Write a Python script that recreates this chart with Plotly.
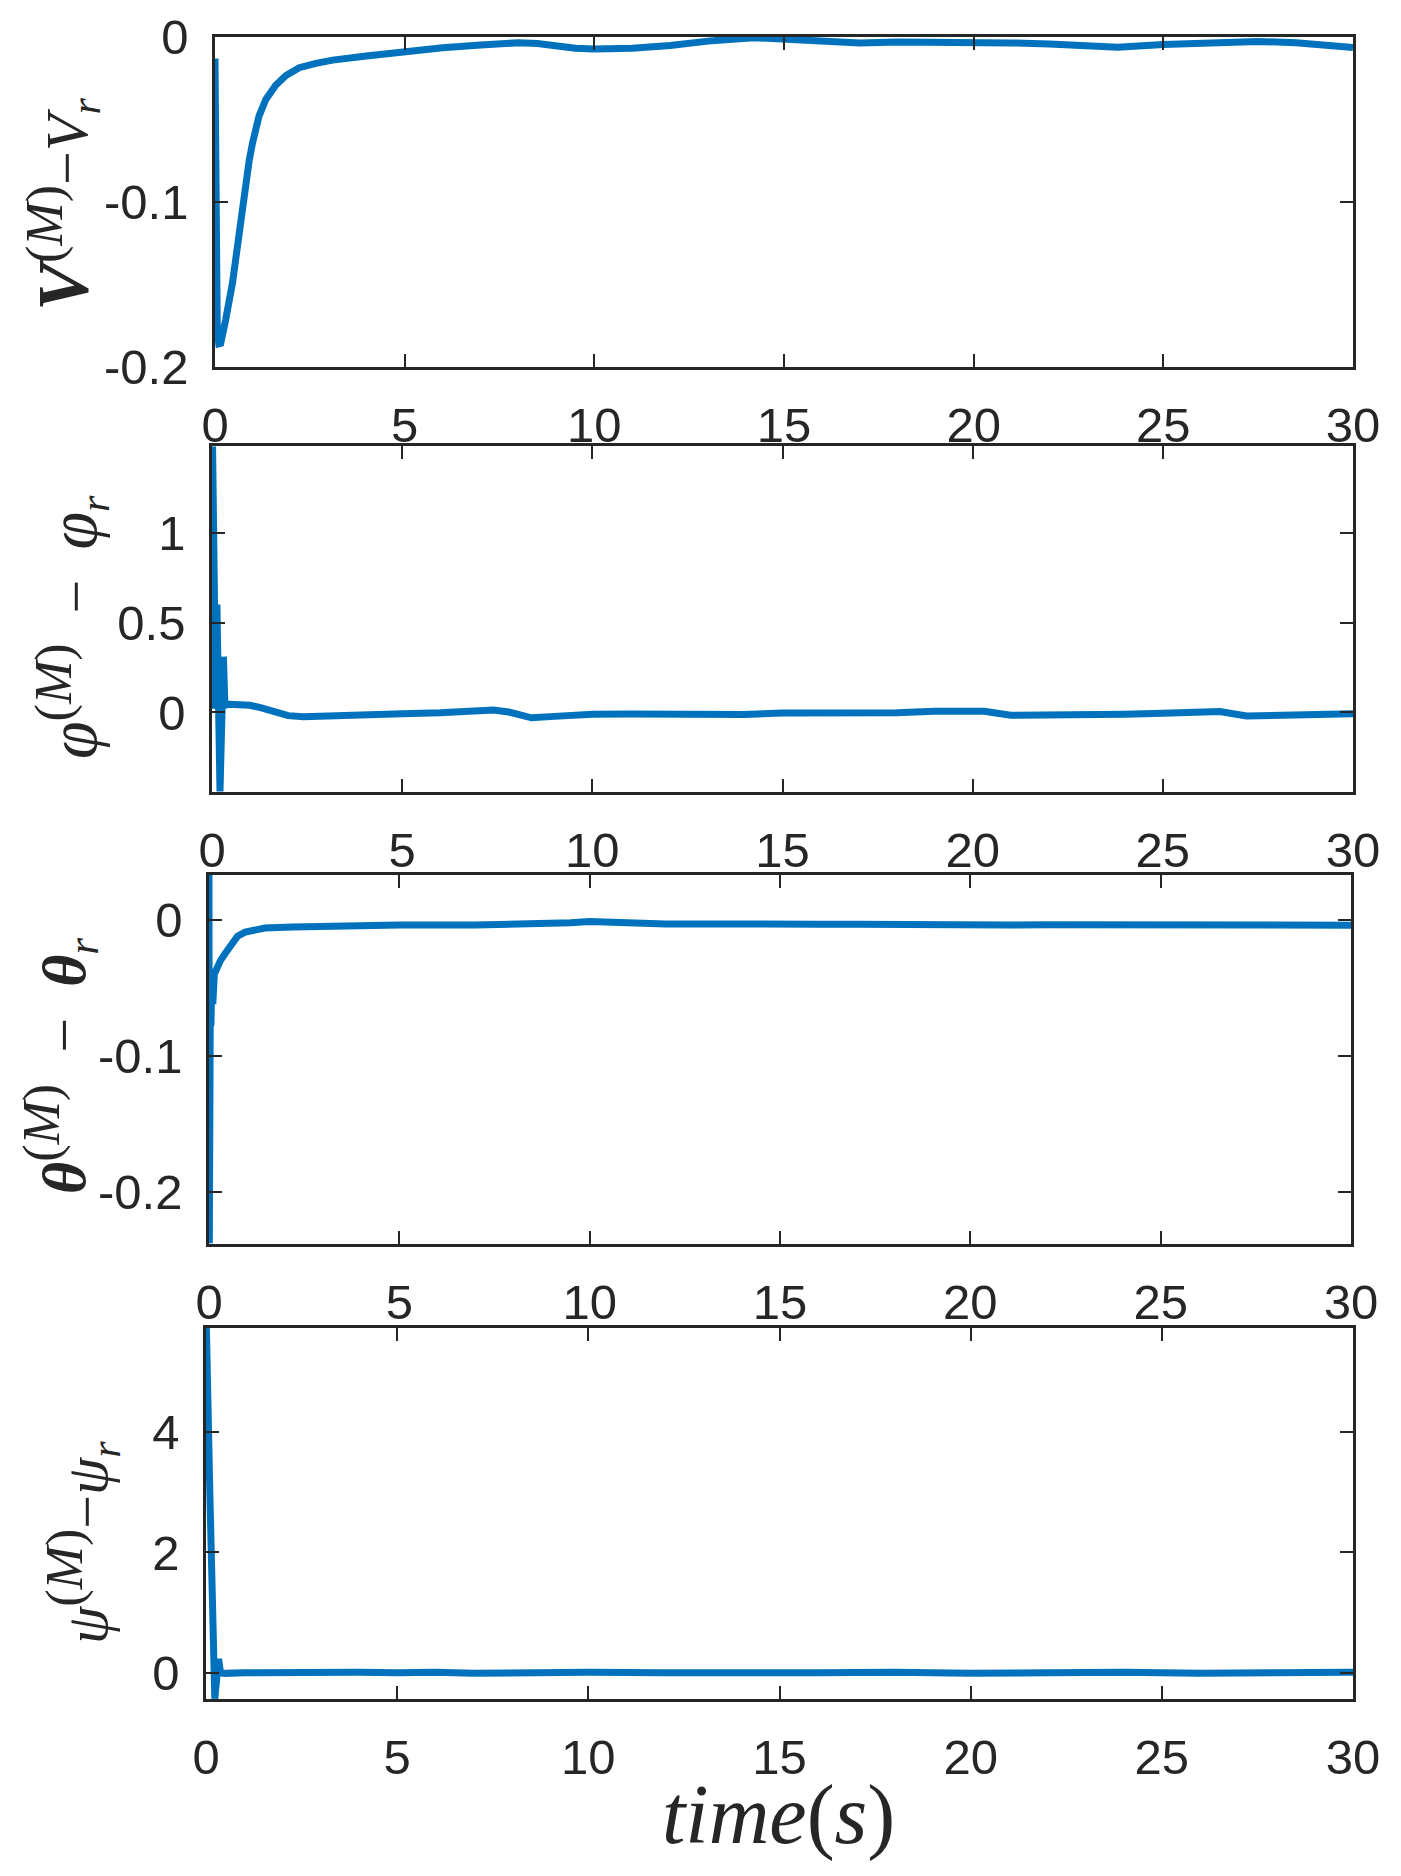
import plotly.graph_objects as go

# page body has an 8px default margin, so the figure is drawn 8px in from the corner
OFF = 8
W, H = 1401 - 2 * OFF, 1876 - OFF

# ---------------- data ----------------
t_v = [0, 0.02, 0.06, 0.1, 0.15, 0.28, 0.37, 0.46, 0.55, 0.63, 0.72, 0.81, 0.9, 0.99,
       1.16, 1.34, 1.6, 1.87, 2.22, 2.66, 3.1, 3.99, 5.0, 6.0, 7.0, 8.0, 8.5, 9.0, 9.5,
       10.0, 11.0, 12.0, 13.0, 14.2, 15.0, 16.0, 17.0, 18.0, 19.0, 20.0, 21.0, 22.0,
       23.0, 23.8, 25.0, 26.0, 27.5, 28.5, 30.0]
v_err = [-0.013, -0.15, -0.178, -0.186, -0.1857, -0.1715, -0.161, -0.1492, -0.134, -0.1188,
         -0.102, -0.0865, -0.075, -0.0642, -0.048, -0.0379, -0.0293, -0.0233, -0.0186,
         -0.016, -0.014, -0.0115, -0.0085, -0.0065, -0.0048, -0.0035, -0.004, -0.0055,
         -0.0068, -0.0073, -0.0068, -0.0052, -0.0025, -0.0004, -0.0012, -0.0028, -0.0036,
         -0.003, -0.0029, -0.0037, -0.0036, -0.0042, -0.0056, -0.0062, -0.0045, -0.0038,
         -0.0027, -0.0035, -0.0063]

t_phi = [0, 0.015, 0.07, 0.1, 0.13, 0.21, 0.3, 0.34, 0.45, 0.7, 1.0, 1.3, 1.6, 2.0, 2.4,
         3.0, 4.0, 5.0, 6.0, 7.0, 7.4, 7.8, 8.1, 8.4, 9.0, 10.0, 11.0, 12.0, 13.5, 14.0,
         15.0, 16.0, 17.0, 18.0, 19.0, 19.8, 20.3, 21.0, 22.0, 23.0, 24.0, 25.0, 26.0,
         26.5, 27.2, 28.0, 29.0, 30.0]
phi_err = [0.02, 1.48, 0.55, 0.15, 0.6, -0.44, 0.31, 0.04, 0.045, 0.045, 0.04, 0.025,
           0.005, -0.018, -0.024, -0.018, -0.01, -0.007, -0.002, 0.012, 0.013, 0.002,
           -0.018, -0.03, -0.022, -0.01, -0.009, -0.01, -0.018, -0.012, -0.003, -0.004,
           -0.006, -0.002, 0.006, 0.01, 0.006, -0.016, -0.016, -0.012, -0.01, -0.005,
           0.008, 0.005, -0.02, -0.017, -0.01, -0.007]

t_theta = [0, 0.008, 0.02, 0.035, 0.05, 0.07, 0.1, 0.14, 0.2, 0.3, 0.42, 0.6, 0.75, 0.95,
           1.2, 1.47, 2.2, 3.0, 4.0, 5.0, 7.0, 8.0, 9.0, 9.5, 10.0, 10.5, 11.0, 12.0,
           13.0, 14.0, 15.0, 16.0, 17.0, 18.0, 19.5, 20.0, 21.0, 22.0, 23.0, 24.0, 25.0,
           26.0, 27.0, 28.0, 29.0, 30.0]
theta_err = [0.033, -0.238, -0.1, -0.06, -0.078, -0.05, -0.062, -0.04, -0.036, -0.03,
             -0.025, -0.017, -0.012, -0.009, -0.0072, -0.006, -0.0052, -0.0046, -0.0042,
             -0.0038, -0.0038, -0.0036, -0.0032, -0.0022, -0.0012, -0.0013, -0.0022,
             -0.003, -0.0028, -0.0024, -0.0028, -0.0032, -0.0033, -0.0036, -0.0046,
             -0.0042, -0.0038, -0.0037, -0.0038, -0.004, -0.0046, -0.004, -0.0038,
             -0.0038, -0.0038, -0.0039]

t_psi = [0, 0.01, 0.1, 0.2, 0.23, 0.28, 0.33, 0.38, 0.5, 1.0, 2.0, 3.0, 4.0, 5.0, 6.0,
         7.0, 8.0, 9.0, 10.0, 12.0, 14.0, 16.0, 18.0, 20.0, 22.0, 24.0, 26.0, 28.0, 30.0]
psi_err = [5.73, 5.73, 3.0, 0.2, -0.43, -0.1, 0.23, 0.0, -0.01, 0.0, 0.01, 0.0, 0.01,
           0.0, 0.01, -0.01, 0.0, 0.01, 0.01, 0.0, -0.01, 0.0, 0.01, -0.01, 0.0, 0.01,
           -0.01, 0.0, 0.01]

x_ticks = [0, 5, 10, 15, 20, 25, 30]
x_tick_text = ["0", "5", "10", "15", "20", "25", "30"]

y_ticks = [[-0.2, -0.1, 0], [0, 0.5, 1], [-0.2, -0.1, 0], [0, 2, 4]]
y_tick_text = [["-0.2", "-0.1", "0"], ["0", "0.5", "1"], ["-0.2", "-0.1", "0"], ["0", "2", "4"]]
y_ranges = [[-0.2, 0.0], [-0.443, 1.483], [-0.2386, 0.033], [-0.436, 5.73]]

SUP = '<sup><span style="font-size:52px">(<i>M</i>)</span></sup>'
SP = "\u2002"
y_titles = [
    '<span style="font-size:72px"><b><i>V</i></b></span>' + SUP + '−<i>V</i><sub><i>r</i></sub>',
    '<span style="font-size:68px"><i>φ</i></span>' + SUP + SP + '−' + SP + '<span style="font-size:68px"><i>φ</i></span><sub><i>r</i></sub>',
    '<b><i>θ</i></b>' + SUP + SP + '−' + SP + '<b><i>θ</i></b><sub><i>r</i></sub>',
    '<i>ψ</i>' + SUP + '−<i>ψ</i><sub><i>r</i></sub>',
]
title_sizes = [60, 60, 62, 60]
x_title = "<i>time</i>(<i>s</i>)"

series_t = [t_v, t_phi, t_theta, t_psi]
series_y = [v_err, phi_err, theta_err, psi_err]

# ---------------- layout (pixel boxes in window coordinates) ----------------
boxes = [(215, 1353, 37, 367), (212, 1353, 446, 792), (209, 1351, 875, 1244), (206, 1353, 1328, 1699)]
ytitle_pos = [(62, 204), (72, 627), (60, 1066), (82, 1543)]

AX = "#262626"
LINE = "#0072BD"
tick_font = dict(family="Liberation Sans, Arial, sans-serif", size=49, color=AX)
serif = "Liberation Serif, Times New Roman, serif"


def fx(px):
    return (px - OFF) / W


def fy(py):
    return 1 - (py - OFF) / H


fig = go.Figure()
layout = dict(
    width=W, height=H,
    margin=dict(l=0, r=0, t=0, b=0, pad=0, autoexpand=False),
    paper_bgcolor="white", plot_bgcolor="white",
    showlegend=False,
    annotations=[],
)

for i in range(4):
    n = "" if i == 0 else str(i + 1)
    x0, x1, y0, y1 = boxes[i]
    fig.add_trace(go.Scatter(
        x=series_t[i], y=series_y[i], mode="lines",
        line=dict(color=LINE, width=7),
        xaxis="x" + n, yaxis="y" + n, hoverinfo="skip",
    ))
    layout["xaxis" + n] = dict(
        domain=[fx(x0), fx(x1)], anchor="y" + n, range=[0, 30],
        tickmode="array", tickvals=x_ticks, ticktext=x_tick_text,
        ticks="inside", ticklen=13, tickwidth=1.6, tickcolor=AX,
        showline=True, linecolor=AX, linewidth=2.5, mirror="ticks",
        showgrid=False, zeroline=False, tickfont=tick_font,
        ticklabelstandoff=13, automargin=False,
    )
    layout["yaxis" + n] = dict(
        domain=[fy(y1), fy(y0)], anchor="x" + n, range=y_ranges[i],
        tickmode="array", tickvals=y_ticks[i], ticktext=y_tick_text[i],
        ticks="inside", ticklen=13, tickwidth=1.6, tickcolor=AX,
        showline=True, linecolor=AX, linewidth=2.5, mirror="ticks",
        showgrid=False, zeroline=False, tickfont=tick_font,
        ticklabelstandoff=14, automargin=False,
    )
    tx, ty = ytitle_pos[i]
    layout["annotations"].append(dict(
        text=y_titles[i], x=fx(tx), y=fy(ty), xref="paper", yref="paper",
        xanchor="center", yanchor="middle", textangle=-90, showarrow=False,
        font=dict(family=serif, size=title_sizes[i], color=AX),
    ))

layout["annotations"].append(dict(
    text=x_title, x=fx(778), y=fy(1815), xref="paper", yref="paper",
    xanchor="center", yanchor="middle", showarrow=False,
    font=dict(family=serif, size=84, color=AX),
))

fig.update_layout(**layout)
fig.write_html("out.html")
